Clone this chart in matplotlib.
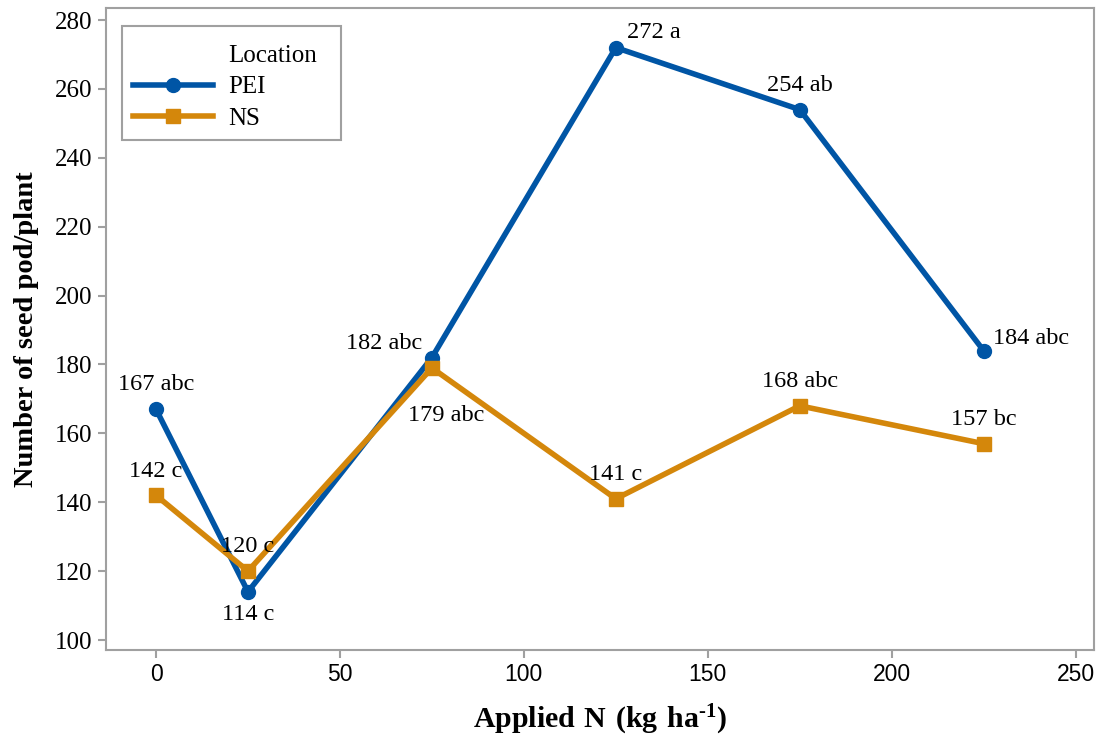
import matplotlib
matplotlib.use("Agg")
import matplotlib.pyplot as plt
from matplotlib import font_manager
from matplotlib.lines import Line2D
from matplotlib.patches import Rectangle

plt.rcParams['font.family'] = ['Liberation Serif', 'DejaVu Serif']
plt.rcParams['mathtext.fontset'] = 'custom'
plt.rcParams['mathtext.rm'] = 'Liberation Serif'
plt.rcParams['mathtext.bf'] = 'Liberation Serif:bold'

n_rates = [0, 25, 75, 125, 175, 225]
pei_values = [167, 114, 182, 272, 254, 184]
ns_values = [142, 120, 179, 141, 168, 157]
pei_letters = ["abc", "c", "abc", "a", "ab", "abc"]
ns_letters = ["c", "c", "abc", "c", "abc", "bc"]

blue = "#0055A5"
orange = "#D4870B"
frame = "#A0A0A0"

fig = plt.figure(figsize=(11.03, 7.36), dpi=100)
ax = fig.add_axes([106 / 1103, 1 - 650 / 736, (1094 - 106) / 1103, (650 - 8) / 736])

pei_line, = ax.plot(n_rates, pei_values, color=blue, lw=4, marker='o', ms=10, zorder=3)
ns_line, = ax.plot(n_rates, ns_values, color=orange, lw=4, marker='s', ms=9.5, zorder=4)

ax.set_xlim(-13.6, 255)
ax.set_ylim(97.1, 283.5)
ax.set_xticks([0, 50, 100, 150, 200, 250])
ax.set_yticks(range(100, 281, 20))

for s in ax.spines.values():
    s.set_color(frame)
    s.set_linewidth(1.5)
ax.tick_params(colors=frame, labelcolor='black', width=1.5, length=6, labelsize=18)

# x tick labels in a narrow sans face
installed = {f.name for f in font_manager.fontManager.ttflist}
if 'Liberation Sans Narrow' in installed:
    xfam, xsize = 'Liberation Sans Narrow', 18
else:
    xfam, xsize = 'Liberation Sans', 16.5
for lbl in ax.get_xticklabels():
    lbl.set_family(xfam)
    lbl.set_fontsize(xsize)

# value labels: (dx points, dy points, ha)
pei_offsets = [(0, 17.5, 'center'), (0, -16, 'center'), (-7, 10, 'right'),
               (8, 11, 'left'), (0, 17.5, 'center'), (6.5, 8.5, 'left')]
ns_offsets = [(0, 17.5, 'center'), (0, 17.5, 'center'), (10, -34.5, 'center'),
              (0, 17.5, 'center'), (0, 17.5, 'center'), (0, 17.5, 'center')]

for x, v, l, (dx, dy, ha) in zip(n_rates, pei_values, pei_letters, pei_offsets):
    ax.annotate(f"{v} {l}", (x, v), xytext=(dx, dy), textcoords='offset points',
                ha=ha, va='center', fontsize=17.5)
for x, v, l, (dx, dy, ha) in zip(n_rates, ns_values, ns_letters, ns_offsets):
    ax.annotate(f"{v} {l}", (x, v), xytext=(dx, dy), textcoords='offset points',
                ha=ha, va='center', fontsize=17.5, zorder=5)

ax.set_xlabel("$\\mathbf{Applied\\ N\\ (kg\\ ha^{\u20101})}$", fontsize=21.5, labelpad=12)
ax.set_ylabel("Number of seed pod/plant", fontsize=20.5, fontweight='bold', labelpad=12)

# legend: heading sits in the label column, boxed with a plain grey frame
blank = Line2D([], [], linestyle='none', marker='none')
leg = ax.legend([blank, pei_line, ns_line], ["Location", "PEI", "NS"],
                loc='upper left', bbox_to_anchor=(27 / 988, 1 - 36 / 642),
                borderaxespad=0, borderpad=0, frameon=False, fontsize=18,
                handlelength=3.2, labelspacing=0.37, handletextpad=0.6)
ax.add_patch(Rectangle((16 / 988, 1 - 132 / 642), 219 / 988, 114 / 642,
                       transform=ax.transAxes, fill=False, edgecolor=frame,
                       linewidth=1.5, zorder=6))

fig.savefig("out.png", dpi=100)
